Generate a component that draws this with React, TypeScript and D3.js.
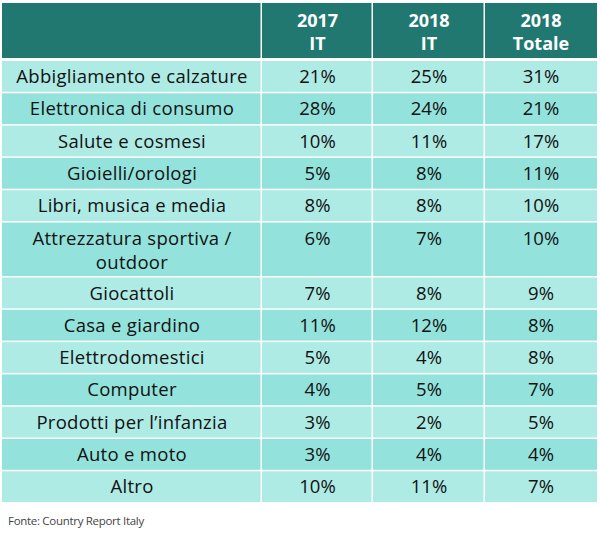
import React from "react";
import * as d3 from "d3";

const categories = [
  "Abbigliamento e calzature",
  "Elettronica di consumo",
  "Salute e cosmesi",
  "Gioielli/orologi",
  "Libri, musica e media",
  "Attrezzatura sportiva / outdoor",
  "Giocattoli",
  "Casa e giardino",
  "Elettrodomestici",
  "Computer",
  "Prodotti per l\u2019infanzia",
  "Auto e moto",
  "Altro",
];
const categoryLines = [
  ["Abbigliamento e calzature"],
  ["Elettronica di consumo"],
  ["Salute e cosmesi"],
  ["Gioielli/orologi"],
  ["Libri, musica e media"],
  ["Attrezzatura sportiva /", "outdoor"],
  ["Giocattoli"],
  ["Casa e giardino"],
  ["Elettrodomestici"],
  ["Computer"],
  ["Prodotti per l\u2019infanzia"],
  ["Auto e moto"],
  ["Altro"],
];
const it2017 = [21, 28, 10, 5, 8, 6, 7, 11, 5, 4, 3, 3, 10];
const it2018 = [25, 24, 11, 8, 8, 7, 8, 12, 4, 5, 2, 4, 11];
const tot2018 = [31, 21, 17, 11, 10, 10, 9, 8, 8, 7, 5, 4, 7];
const headers = [
  ["2017", "IT"],
  ["2018", "IT"],
  ["2018", "Totale"],
];
const source = "Fonte: Country Report Italy";

const W = 600;
const H = 536;
const FONT = "'Open Sans', 'Noto Sans', sans-serif";

export default function App() {
  const colEdges = [2, 262, 373, 485, 597];
  const headerTop = 3;
  const headerBottom = 58;
  const bodyTop = 61;
  const rowUnit = 32.3;
  const rowHeights = categoryLines.map((l) => (l.length > 1 ? 55 : rowUnit));
  const rowTops: number[] = [];
  let acc = bodyTop;
  rowHeights.forEach((h) => {
    rowTops.push(acc);
    acc += h;
  });
  const cols = [it2017, it2018, tot2018];
  const fmt = (v: number) => d3.format("d")(v) + "%";
  const colors = ["#aeebe5", "#93e3dc"];

  return (
    <svg width={W} height={H} style={{ position: "absolute", left: 0, top: 0 }} fontFamily={FONT}>
      <rect x={0} y={0} width={W} height={H} fill="#fff" />
      {colEdges.slice(0, -1).map((x0, i) => (
        <rect key={"h" + i} x={x0} y={headerTop} width={colEdges[i + 1] - x0 - (i < 3 ? 1.5 : 0)} height={headerBottom - headerTop} fill="#207871" />
      ))}
      {headers.map((h, i) => {
        const cx = (colEdges[i + 1] + colEdges[i + 2]) / 2;
        return (
          <text key={"ht" + i} x={cx} textAnchor="middle" fill="#fff" fontWeight={700} fontSize={18}>
            <tspan x={cx} y={27}>{h[0]}</tspan>
            <tspan x={cx} y={50}>{h[1]}</tspan>
          </text>
        );
      })}
      {categories.map((c, r) => {
        const y0 = rowTops[r];
        const h = rowHeights[r];
        const fill = colors[r % 2];
        const lines = categoryLines[r];
        return (
          <g key={"r" + r}>
            {colEdges.slice(0, -1).map((x0, i) => (
              <rect key={i} x={x0} y={y0} width={colEdges[i + 1] - x0 - (i < 3 ? 1.5 : 0)} height={h - 1.5} fill={fill} />
            ))}
            <text textAnchor="middle" fontSize={18.5} letterSpacing={0.3} fill="#111">
              {lines.map((ln, k) => (
                <tspan key={k} x={(colEdges[0] + colEdges[1]) / 2} y={y0 + 22 + k * 24}>{ln}</tspan>
              ))}
            </text>
            {cols.map((vals, i) => (
              <text key={"v" + i} x={(colEdges[i + 1] + colEdges[i + 2]) / 2} y={y0 + 22} textAnchor="middle" fontSize={18.5} fill="#111">
                {fmt(vals[r])}
              </text>
            ))}
          </g>
        );
      })}
      <text x={8} y={525} fontSize={11.5} letterSpacing={-0.3} fill="#444">{source}</text>
    </svg>
  );
}
